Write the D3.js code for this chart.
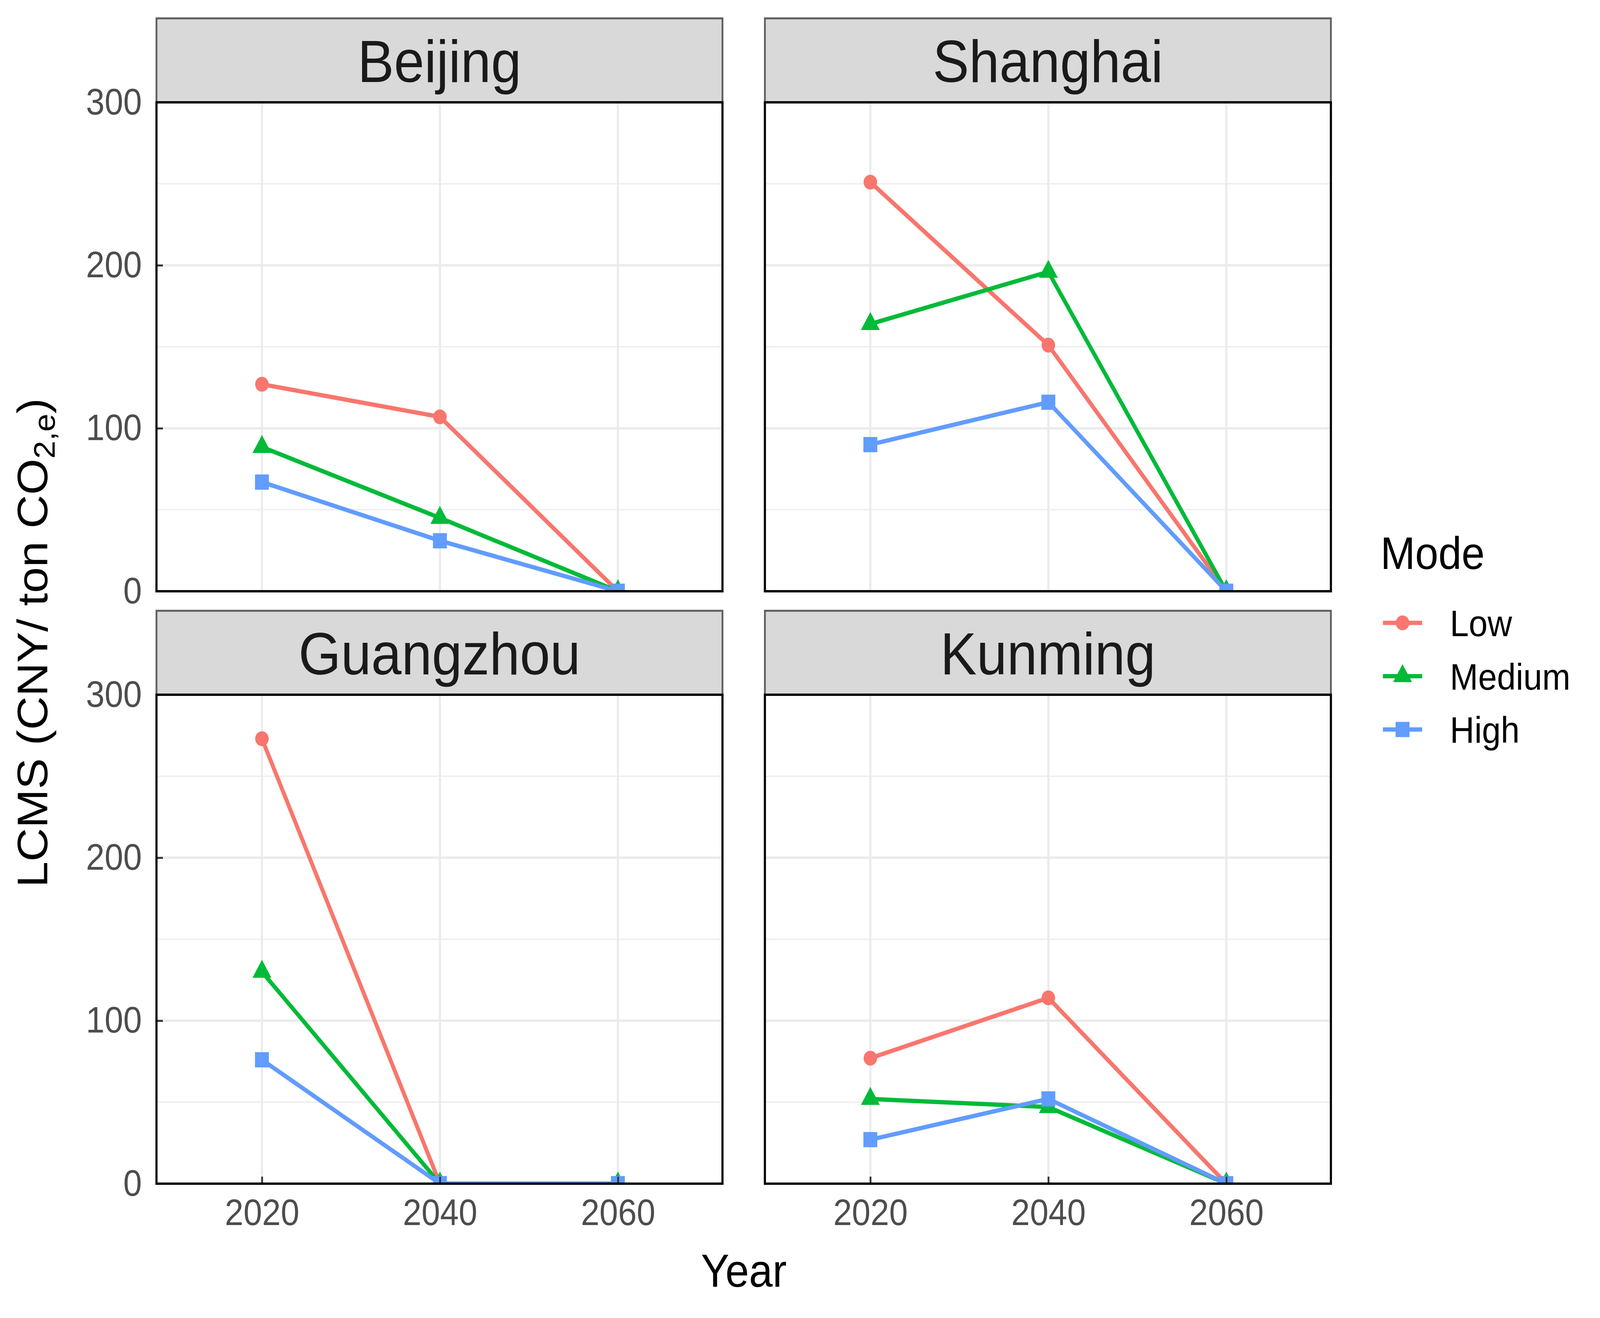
<!DOCTYPE html>
<html>
<head>
<meta charset="utf-8">
<script src="https://cdn.jsdelivr.net/npm/d3@7/dist/d3.min.js"></script>
<style>
  html, body { margin: 0; padding: 0; background: #fff; overflow: hidden; }
  svg { display: block; width: 100vw; height: 100vh; font-family: "Liberation Sans", Arial, Helvetica, sans-serif; }
</style>
</head>
<body>
<svg viewBox="0 0 4489 3375" preserveAspectRatio="none"></svg>
<script>
const cities = ["Beijing", "Shanghai", "Guangzhou", "Kunming"]
const years = [2020, 2040, 2060]
const modes = ["Low", "Medium", "High"]

// one row per city, one value per year
const lowValues = [
  [127, 107, 0],
  [251, 151, 0],
  [273, 0, 0],
  [77, 114, 0]
]
const mediumValues = [
  [88.5, 45, 0],
  [164, 196, 0],
  [130, 0, 0],
  [52, 47, 0]
]
const highValues = [
  [67, 31, 0],
  [90, 116, 0],
  [76, 0, 0],
  [27, 52, 0]
]

const yTicks = [0, 100, 200, 300]
const yMinorTicks = [50, 150, 250]
const xTicks = [2020, 2040, 2060]

const xTitle = "Year"
const legendTitle = "Mode"

class FacetLineChart {
  constructor(selector) {
    const svg = d3.select(selector)

    this.layout = {
      left: [439, 2146],
      top: [262, 1779],
      width: 1588,
      height: 1252,
      strip: 215
    }

    this.color = d3.scaleOrdinal().domain(modes).range(["#F8766D", "#00BA38", "#619CFF"])
    this.shape = d3.scaleOrdinal().domain(modes).range([d3.symbolCircle, d3.symbolTriangle, d3.symbolSquare])
    this.size = d3.scaleOrdinal().domain(modes).range([1134, 1221, 1521])

    const xScale = d3.scaleLinear()
      .domain([2008.15, 2071.75])
      .range([0, this.layout.width])

    const yScale = d3.scaleLinear()
      .domain([0, 300])
      .range([this.layout.height, 0])

    const series = [lowValues, mediumValues, highValues]

    cities.forEach((city, i) => {
      const data = modes.map((mode, m) => ({
        mode: mode,
        points: years.map((year, k) => ({ year: year, value: series[m][i][k] }))
      }))
      this.createPanel(svg, city, i, data, xScale, yScale)
    })

    this.createTitles(svg)
    this.createLegend(svg)
  }

  createPanel(svg, city, i, data, xScale, yScale) {
    const col = i % 2
    const row = Math.floor(i / 2)
    const { width, height, strip } = this.layout
    const left = this.layout.left[col]
    const top = this.layout.top[row]

    const g = svg.append("g").attr("transform", `translate(${left},${top})`)

    // grid
    g.append("g").selectAll("line")
      .data(yMinorTicks)
      .join("line")
      .attr("x1", 0).attr("x2", width)
      .attr("y1", d => yScale(d)).attr("y2", d => yScale(d))
      .attr("stroke", "#EBEBEB").attr("stroke-width", 3)

    g.append("g").selectAll("line")
      .data(yTicks)
      .join("line")
      .attr("x1", 0).attr("x2", width)
      .attr("y1", d => yScale(d)).attr("y2", d => yScale(d))
      .attr("stroke", "#EBEBEB").attr("stroke-width", 6)

    g.append("g").selectAll("line")
      .data(xTicks)
      .join("line")
      .attr("x1", d => xScale(d)).attr("x2", d => xScale(d))
      .attr("y1", 0).attr("y2", height)
      .attr("stroke", "#EBEBEB").attr("stroke-width", 6)

    const clipId = `clip-${i}`
    g.append("clipPath").attr("id", clipId)
      .append("rect").attr("width", width).attr("height", height)

    const plot = g.append("g").attr("clip-path", `url(#${clipId})`)

    const line = d3.line()
      .x(d => xScale(d.year))
      .y(d => yScale(d.value))

    plot.append("g").selectAll("path")
      .data(data)
      .join("path")
      .attr("d", d => line(d.points))
      .attr("fill", "none")
      .attr("stroke", d => this.color(d.mode))
      .attr("stroke-width", 11)
      .attr("stroke-linejoin", "round")

    data.forEach(s => {
      plot.append("g").selectAll("path")
        .data(s.points)
        .join("path")
        .attr("transform", d => `translate(${xScale(d.year)},${yScale(d.value)})`)
        .attr("d", d3.symbol().type(this.shape(s.mode)).size(this.size(s.mode)))
        .attr("fill", this.color(s.mode))
    })

    // axes, ticks point inwards
    if (col === 0) {
      const yAxis = g.append("g")
        .call(d3.axisLeft(yScale).tickValues(yTicks).tickSize(-18).tickPadding(41))
      this.styleAxis(yAxis)
    }
    if (row === 1) {
      const xAxis = g.append("g")
        .attr("transform", `translate(0,${height})`)
        .call(d3.axisBottom(xScale).tickValues(xTicks).tickFormat(d3.format("d")).tickSize(-18).tickPadding(39))
      this.styleAxis(xAxis)
    }

    // strip
    g.append("rect")
      .attr("x", 0).attr("y", -strip)
      .attr("width", width).attr("height", strip)
      .attr("fill", "#D9D9D9")
      .attr("stroke", "#5F5F5F")
      .attr("stroke-width", 5)

    g.append("text")
      .attr("x", width / 2)
      .attr("y", -strip / 2 + 55)
      .attr("text-anchor", "middle")
      .attr("font-size", 153)
      .attr("fill", "#1A1A1A")
      .text(city)

    g.append("rect")
      .attr("width", width).attr("height", height)
      .attr("fill", "none")
      .attr("stroke", "#000")
      .attr("stroke-width", 6)
  }

  styleAxis(axis) {
    axis.select(".domain").remove()
    axis.selectAll(".tick line").attr("stroke", "#333").attr("stroke-width", 5)
    axis.selectAll(".tick text")
      .attr("font-size", 94)
      .attr("font-family", "Liberation Sans, Arial, sans-serif")
      .attr("fill", "#4D4D4D")
  }

  createTitles(svg) {
    svg.append("text")
      .attr("x", 2087)
      .attr("y", 3295)
      .attr("text-anchor", "middle")
      .attr("font-size", 119)
      .attr("fill", "#000")
      .text(xTitle)

    const yTitle = svg.append("text")
      .attr("transform", "translate(133,1646) rotate(-90)")
      .attr("text-anchor", "middle")
      .attr("font-size", 119)
      .attr("fill", "#000")

    yTitle.append("tspan").text("LCMS (CNY/ ton CO")
    yTitle.append("tspan").attr("font-size", 83).attr("dy", 20).text("2,e")
    yTitle.append("tspan").attr("dy", -20).text(")")
  }

  createLegend(svg) {
    const legend = svg.append("g")

    legend.append("text")
      .attr("x", 3873)
      .attr("y", 1457)
      .attr("font-size", 117)
      .attr("fill", "#000")
      .text(legendTitle)

    const keys = legend.selectAll(".key")
      .data(modes)
      .join("g")
      .attr("class", "key")
      .attr("transform", (d, i) => `translate(0,${1595 + i * 136.5})`)

    keys.append("line")
      .attr("x1", 3880).attr("x2", 3990)
      .attr("stroke", d => this.color(d))
      .attr("stroke-width", 11)

    keys.append("path")
      .attr("transform", "translate(3935,0)")
      .attr("d", d => d3.symbol().type(this.shape(d)).size(this.size(d))())
      .attr("fill", d => this.color(d))

    keys.append("text")
      .attr("x", 4068)
      .attr("y", 34)
      .attr("font-size", 95)
      .attr("fill", "#000")
      .text(d => d)
  }
}

new FacetLineChart("svg")
</script>
</body>
</html>
